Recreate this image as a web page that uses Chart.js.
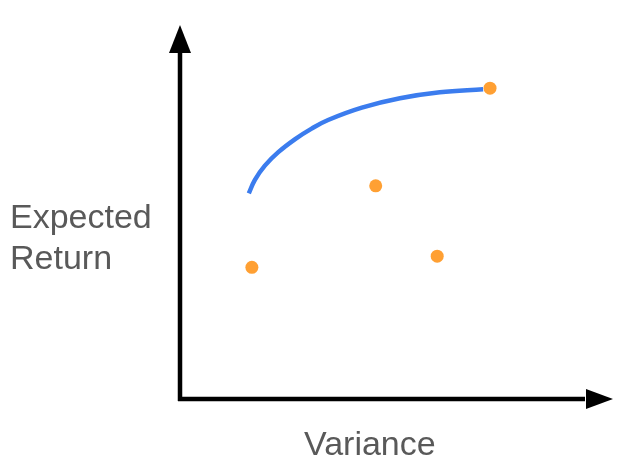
<!DOCTYPE html>
<html>
<head>
<meta charset="utf-8">
<script src="https://cdn.jsdelivr.net/npm/chart.js@4"></script>
<style>
  html, body { margin: 0; padding: 0; background: #fff; }
  #wrap { position: relative; width: 633px; height: 473px; }
  #grafico { position: absolute; left: 0; top: 0; }
  .rotulo {
    position: absolute;
    font-family: "Liberation Sans", Arial, sans-serif;
    font-size: 34px;
    line-height: 41px;
    color: #595959;
    white-space: nowrap;
  }
</style>
</head>
<body>
<div id="wrap">
  <canvas id="grafico" width="633" height="473"></canvas>
  <div class="rotulo" style="left:10px; top:196px;">Expected<br>Return</div>
  <div class="rotulo" style="left:304px; top:423px;">Variance</div>
</div>
<script>
// curva (fronteira), escala 0-100
const curvaX = [15.9, 17.3, 19.6, 22.7, 26.6, 30.4, 34.2, 42.0, 50.8, 60.0, 70.0];
const curvaY = [55.0, 58.6, 62.4, 66.0, 69.5, 72.3, 74.6, 77.9, 80.4, 82.0, 82.8];

// carteiras (pontos laranja)
const pontosX = [16.6, 45.2, 59.4, 71.6];
const pontosY = [35.2, 57.0, 38.2, 83.1];

const curva = curvaX.map((x, i) => ({ x: x, y: curvaY[i] }));
const pontos = pontosX.map((x, i) => ({ x: x, y: pontosY[i] }));

// desenha os eixos com setas
const eixos = {
    id: 'eixos',
    beforeDatasetsDraw(chart) {
        const ctx = chart.ctx;
        const sx = chart.scales.x, sy = chart.scales.y;
        const x0 = sx.getPixelForValue(0);
        const y0 = sy.getPixelForValue(0);
        const xFim = sx.getPixelForValue(100);
        const yFim = sy.getPixelForValue(100);
        const seta = 28;
        ctx.save();
        ctx.strokeStyle = '#000';
        ctx.fillStyle = '#000';
        ctx.lineWidth = 4.5;
        ctx.lineCap = 'butt';
        ctx.beginPath();
        ctx.moveTo(x0, yFim + seta);
        ctx.lineTo(x0, y0 + 2);
        ctx.moveTo(x0 - 2, y0);
        ctx.lineTo(xFim - seta, y0);
        ctx.stroke();
        // seta vertical
        ctx.beginPath();
        ctx.moveTo(x0, yFim);
        ctx.lineTo(x0 - 11, yFim + seta);
        ctx.lineTo(x0 + 11, yFim + seta);
        ctx.closePath();
        ctx.fill();
        // seta horizontal
        ctx.beginPath();
        ctx.moveTo(xFim, y0);
        ctx.lineTo(xFim - 27, y0 - 10);
        ctx.lineTo(xFim - 27, y0 + 10);
        ctx.closePath();
        ctx.fill();
        ctx.restore();
    }
};

new Chart(document.getElementById('grafico'), {
    type: 'scatter',
    data: {
        datasets: [
            {
                label: 'Fronteira',
                data: curva,
                showLine: true,
                borderColor: '#3b7cee',
                borderWidth: 4.5,
                tension: 0.4,
                pointRadius: 0,
                fill: false
            },
            {
                label: 'Carteiras',
                data: pontos,
                backgroundColor: '#ffa033',
                borderWidth: 0,
                pointRadius: 6.5
            }
        ]
    },
    options: {
        responsive: false,
        animation: false,
        layout: {
            padding: { left: 180, right: 20, top: 25, bottom: 74 }
        },
        plugins: {
            legend: { display: false },
            tooltip: { enabled: false }
        },
        scales: {
            x: { type: 'linear', min: 0, max: 100, display: false },
            y: { type: 'linear', min: 0, max: 100, display: false }
        }
    },
    plugins: [eixos]
});
</script>
</body>
</html>
